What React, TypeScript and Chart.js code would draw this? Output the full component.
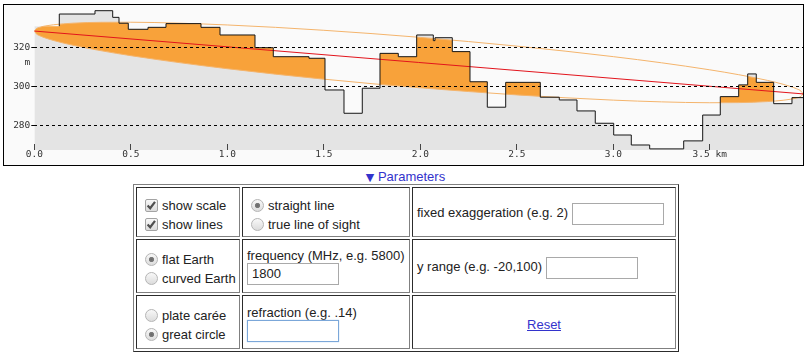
import React, { useEffect, useRef } from 'react';
import { Chart, registerables } from 'chart.js';
Chart.register(...registerables);

// Terrain profile (step starts, km) and elevation (m)
const terrainKm = [0, 0.1295, 0.1295, 0.3145, 0.4062, 0.4389, 0.487, 0.5891, 0.6824, 0.8637, 0.9622, 1.1435, 1.2383, 1.4233, 1.5062, 1.6047, 1.6995, 1.7912, 1.886, 1.9813, 2.0674, 2.0762, 2.1658, 2.2575, 2.3472, 2.4425, 2.6218, 2.7202, 2.8119, 2.9067, 3.0021, 3.0933, 3.1886, 3.3648, 3.4632, 3.5544, 3.6497, 3.6964, 3.7409, 3.8311, 3.9259, 3.983];
const terrainM = [331, 331, 337.2, 338.9, 335.5, 332.5, 329.4, 330.4, 332.3, 330.4, 326.5, 320, 315.4, 314.6, 298.4, 286.5, 299.3, 317.1, 315.4, 326.5, 323.6, 325.1, 318, 302.6, 289.6, 302.3, 294.7, 293.3, 287.7, 281.4, 275.4, 270.3, 268.3, 272.4, 285.6, 295, 301, 306.6, 302.3, 291.4, 294.5, 294.5];

// First Fresnel zone boundary (m) read along the path
const fresnelKm = [0, 0.01, 0.03, 0.06, 0.1, 0.2, 0.35, 0.5, 0.75, 1.0, 1.25, 1.5, 1.75, 2.0, 2.25, 2.5, 2.75, 3.0, 3.25, 3.5, 3.65, 3.8, 3.88, 3.92, 3.95, 3.973, 3.983];
const fresnelUpperM = [328.5, 329.71, 330.49, 331.16, 331.72, 332.52, 332.98, 333.01, 332.53, 331.61, 330.39, 328.89, 327.19, 325.26, 323.14, 320.81, 318.25, 315.43, 312.29, 308.7, 306.21, 303.27, 301.32, 300.12, 299.01, 297.77, 296.4];
const fresnelLowerM = [328.5, 327.13, 326.03, 324.88, 323.66, 321.26, 318.38, 315.93, 312.39, 309.27, 306.47, 303.93, 301.61, 299.5, 297.6, 295.89, 294.43, 293.21, 292.33, 291.88, 291.95, 292.49, 293.14, 293.7, 294.33, 295.19, 296.4];

// Line of sight
const losKm = [0, 3.983];
const losM = [328.5, 296.4];

// Axis ticks
const xTickValues = [0, 0.5, 1.0, 1.5, 2.0, 2.5, 3.0, 3.5];
const xTickLabels = ['0.0', '0.5', '1.0', '1.5', '2.0', '2.5', '3.0', '3.5 km'];
const yTickValues = [280, 300, 312.5, 320];
const yTickLabels = ['280', '300', 'm', '320'];

const X_MIN = 0;
const X_MAX = 3.983;
const Y_MIN = 267.74;
const Y_MAX = 341.81;

const SKY = '#fafafa';
const TERRAIN = '#e4e4e4';
const ORANGE = '#f8a23a';
const ORANGE_LINE = '#f4b46c';
const RED = '#e2141c';
const NONE = 'rgba(0,0,0,0)';
const MONO = '"DejaVu Sans Mono", monospace';

const pts = (xs: number[], ys: number[]) => xs.map((x, i) => ({ x, y: ys[i] }));

function ProfileChart() {
  const ref = useRef<HTMLCanvasElement>(null);
  useEffect(() => {
    const terrain = pts(terrainKm, terrainM);
    const upper = pts(fresnelKm, fresnelUpperM);
    const lower = pts(fresnelKm, fresnelLowerM);
    const los = pts(losKm, losM);
    const base = { pointRadius: 0, pointHoverRadius: 0 };
    const chart = new Chart(ref.current as HTMLCanvasElement, {
      type: 'line',
      data: {
        datasets: [
          { ...base, data: terrain, stepped: 'before', fill: 'start', backgroundColor: TERRAIN, borderColor: NONE, borderWidth: 0, order: 10 },
          { ...base, data: lower, cubicInterpolationMode: 'monotone', fill: false, borderColor: NONE, borderWidth: 0, order: 9 },
          { ...base, data: upper, cubicInterpolationMode: 'monotone', fill: 1, backgroundColor: ORANGE, borderColor: NONE, borderWidth: 0, order: 8 },
          { ...base, data: terrain, stepped: 'before', fill: 'end', backgroundColor: SKY, borderColor: NONE, borderWidth: 0, order: 7 },
          { ...base, data: upper, cubicInterpolationMode: 'monotone', fill: false, borderColor: ORANGE_LINE, borderWidth: 1, order: 5 },
          { ...base, data: lower, cubicInterpolationMode: 'monotone', fill: false, borderColor: ORANGE_LINE, borderWidth: 1, order: 4 },
          { ...base, data: los, fill: false, borderColor: RED, borderWidth: 1, order: 3 },
          {
            ...base, data: terrain, stepped: 'before', fill: false, borderColor: '#151515', borderWidth: 1, order: 2,
            segment: { borderColor: (c: any) => (c.p0DataIndex === 0 ? NONE : undefined) },
          },
        ] as any,
      },
      options: {
        animation: false,
        responsive: false,
        events: [],
        layout: { padding: 0 },
        plugins: { legend: { display: false }, tooltip: { enabled: false } },
        scales: {
          x: {
            type: 'linear', position: 'bottom', min: X_MIN, max: X_MAX, z: 1,
            afterBuildTicks: (s: any) => { s.ticks = xTickValues.map((v) => ({ value: v })); },
            afterFit: (s: any) => { s.height = 15; s.paddingLeft = 0; s.paddingRight = 0; },
            grid: { drawOnChartArea: false, drawTicks: true, tickLength: -6, color: '#444', lineWidth: 1, z: 1 },
            border: { display: false },
            ticks: {
              autoSkip: false, maxRotation: 0, minRotation: 0, padding: 5, color: '#333', z: 1,
              font: { family: MONO, size: 9.5 },
              callback: (_v: any, i: number) => xTickLabels[i],
            },
          },
          y: {
            type: 'linear', position: 'left', min: Y_MIN, max: Y_MAX, z: 1,
            afterBuildTicks: (s: any) => { s.ticks = yTickValues.map((v) => ({ value: v })); },
            afterFit: (s: any) => { s.width = 30.3; s.paddingTop = 0; s.paddingBottom = 0; },
            grid: {
              drawTicks: true, tickLength: 3, lineWidth: 1, z: 1,
              color: (c: any) => (c.tick && c.tick.value === 312.5 ? NONE : '#000'),
              borderDash: [3, 3], tickBorderDash: [3, 3],
            } as any,
            border: { display: false, dash: [3, 3] },
            ticks: {
              autoSkip: false, padding: 1, color: '#333', z: 1,
              font: { family: MONO, size: 9.5 },
              callback: (_v: any, i: number) => yTickLabels[i],
            },
          },
        },
      } as any,
    });
    return () => chart.destroy();
  }, []);
  return <canvas ref={ref} width={799} height={160} style={{ display: 'block', width: 799, height: 160 }} />;
}

const FONT = '13px Arial, "Liberation Sans", sans-serif';
const td: React.CSSProperties = { padding: '2px 4px', verticalAlign: 'middle', font: FONT, color: '#222', border: '1px inset gray', whiteSpace: 'nowrap' };
const inputStyle: React.CSSProperties = {
  width: 92, height: 22, boxSizing: 'border-box', border: '1px solid #a9a9a9', padding: '1px 4px',
  font: FONT, margin: 0, verticalAlign: 'middle', background: '#fff', color: '#222',
};
const GRAD = 'linear-gradient(#f8f8f8, #dcdcdc)';
const tickSvg = "url(\"data:image/svg+xml;utf8,<svg xmlns='http://www.w3.org/2000/svg' width='13' height='13'><path d='M2.6 6.4 L5.2 9.2 L10 2.8' stroke='%23505050' stroke-width='2.2' fill='none'/></svg>\")";
const boxBase: React.CSSProperties = {
  appearance: 'none', WebkitAppearance: 'none', width: 13, height: 13, boxSizing: 'border-box',
  margin: '3px 4px 3px 4px', verticalAlign: 'middle', border: '1px solid #a3a3a3', background: GRAD, position: 'relative', top: -1,
};
const checkStyle = (checked: boolean): React.CSSProperties => ({
  ...boxBase, borderRadius: 2, background: checked ? `${tickSvg} center/13px 13px no-repeat, ${GRAD}` : GRAD,
});
const radioStyle = (checked: boolean): React.CSSProperties => ({
  ...boxBase, borderRadius: '50%', border: '1px solid #b5b5b5',
  background: checked ? `radial-gradient(circle, #6a6a6a 0, #7a7a7a 2.2px, rgba(0,0,0,0) 3px), ${GRAD}` : GRAD,
});
const shift = (px: number): React.CSSProperties => ({ position: 'relative', top: px });
const linkColor = '#3333cc';

export default function App() {
  return (
    <div>
      <div style={{ position: 'absolute', left: 3, top: 4, width: 801, height: 162, boxSizing: 'border-box', border: '1px solid #000', background: SKY }}>
        <ProfileChart />
      </div>
      <div style={{ position: 'absolute', left: 0, top: 169, width: 811, textAlign: 'center', font: FONT, color: linkColor }}>
        <span style={{ fontSize: 11, fontFamily: '"DejaVu Sans", sans-serif' }}>▼</span> Parameters
      </div>
      <table border={1} cellSpacing={2} cellPadding={0} style={{ position: 'absolute', left: 133, top: 184, width: 546, tableLayout: 'fixed', borderCollapse: 'separate', border: '1px outset gray', font: FONT }}>
        <colgroup>
          <col style={{ width: 104 }} />
          <col style={{ width: 168 }} />
          <col style={{ width: 264 }} />
        </colgroup>
        <tbody>
          <tr style={{ height: 50 }}>
            <td style={td}>
              <div style={shift(4)}>
                <input type="checkbox" defaultChecked style={checkStyle(true)} />show scale<br />
                <input type="checkbox" defaultChecked style={checkStyle(true)} />show lines
              </div>
            </td>
            <td style={td}>
              <div style={shift(4)}>
                <input type="radio" name="los" defaultChecked style={radioStyle(true)} />straight line<br />
                <input type="radio" name="los" style={radioStyle(false)} />true line of sight
              </div>
            </td>
            <td style={td}>
              <div style={shift(2)}>
                fixed exaggeration (e.g. 2){' '}<input type="text" style={inputStyle} defaultValue="" />
              </div>
            </td>
          </tr>
          <tr style={{ height: 54 }}>
            <td style={td}>
              <div style={shift(4)}>
                <input type="radio" name="earth" defaultChecked style={radioStyle(true)} />flat Earth<br />
                <input type="radio" name="earth" style={radioStyle(false)} />curved Earth
              </div>
            </td>
            <td style={td}>
              <div style={shift(0)}>
                frequency (MHz, e.g. 5800)<br />
                <input type="text" style={inputStyle} defaultValue="1800" />
              </div>
            </td>
            <td style={td}>
              <div style={shift(2)}>
                y range (e.g. -20,100){' '}<input type="text" style={inputStyle} defaultValue="" />
              </div>
            </td>
          </tr>
          <tr style={{ height: 54 }}>
            <td style={td}>
              <div style={shift(4)}>
                <input type="radio" name="proj" style={radioStyle(false)} />plate carée<br />
                <input type="radio" name="proj" defaultChecked style={radioStyle(true)} />great circle
              </div>
            </td>
            <td style={td}>
              <div style={shift(1)}>
                refraction (e.g. .14)<br />
                <input type="text" style={{ ...inputStyle, border: '1px solid #7ba7d9', boxShadow: '0 0 1px #9cc2ea' }} defaultValue="" />
              </div>
            </td>
            <td style={{ ...td, textAlign: 'center' }}>
              <div style={shift(2)}>
                <a href="#" style={{ color: linkColor, textDecoration: 'underline' }}>Reset</a>
              </div>
            </td>
          </tr>
        </tbody>
      </table>
    </div>
  );
}
